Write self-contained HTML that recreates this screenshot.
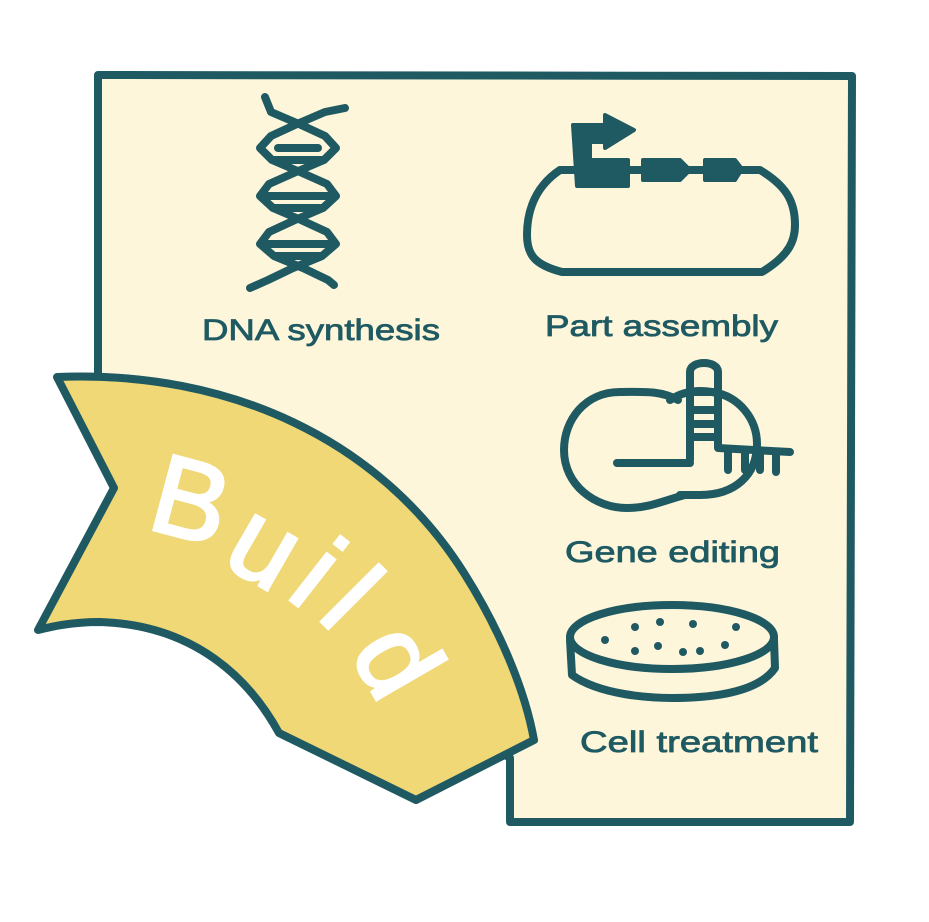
<!DOCTYPE html>
<html><head><meta charset="utf-8"><style>
html,body{margin:0;padding:0;background:#fff;}
svg{display:block;}
text{font-family:"Liberation Sans",sans-serif;}
</style></head><body>
<svg width="929" height="922" viewBox="0 0 929 922" xmlns="http://www.w3.org/2000/svg">
<g stroke="#1f5a63" stroke-linecap="round" stroke-linejoin="round">
<path d="M98,75 L852,76 L850,822 L510,822 L510,758 L420,700 L98,400 Z" fill="#fdf6da" stroke-width="8"/>
<path d="M57,377 C230,370 380,440 464,573 C500,630 525,690 534,740 L416,800 L279,733 C250,680 196,625 100,622 C70,622 50,627 38,630 L114,488 Z" fill="#efd875" stroke-width="8"/>
<!-- DNA -->
<g fill="none" stroke-width="8">
<polyline points="265,97 271,112 299,124 325,136 336,148 324,160 296,172 269,184 260,196 273,208 301,220 327,232 336,244 322,256 293,268 268,280 250,288"/>
<polyline points="345,108 325,112 297,124 271,136 260,148 272,160 300,172 327,184 336,196 323,208 295,220 269,232 260,244 274,256 303,268 328,280 334,285"/>
<line x1="278" y1="148" x2="318" y2="148"/><line x1="274" y1="160" x2="322" y2="160"/>
<line x1="266" y1="196" x2="330" y2="196"/><line x1="275" y1="208" x2="320" y2="208"/>
<line x1="266" y1="244" x2="330" y2="244"/><line x1="276" y1="256" x2="320" y2="256"/>
</g>
<!-- plasmid -->
<path d="M560,170 C530,190 527,220 527,235 C527,255 535,265 562,272 L762,272 C790,255 795,240 795,225 C795,200 785,185 760,170 Z" fill="none" stroke-width="8"/>
<g fill="#1f5a63" stroke-width="4">
<path d="M573,125 L605,125 L605,115 L634,130 L605,148 L605,142 L590,142 L590,160 L628,160 L628,186 L577,186 Z"/>
<path d="M643,160 L680,160 L690,170 L680,180 L643,180 Z"/>
<path d="M705,160 L735,160 L742,169 L735,180 L705,180 Z"/>
</g>
<!-- gene editing -->
<g fill="none" stroke-width="8">
<path d="M678,400 C660,390 640,392 620,392 C585,392 564,420 564,450 C564,485 595,508 627,508 C650,508 665,500 685,495"/>
<path d="M670,400 C685,390 700,390 712,392 C740,396 757,420 757,444 C757,475 735,495 700,495 C690,495 685,495 680,495"/>
<path d="M690,460 L690,372 C690,360 718,360 718,372 L718,448 L790,452"/>
<line x1="617" y1="463" x2="690" y2="463"/>
<line x1="690" y1="392" x2="718" y2="392"/><line x1="690" y1="410" x2="718" y2="410"/>
<line x1="690" y1="424" x2="718" y2="424"/><line x1="690" y1="437" x2="718" y2="437"/>
<line x1="728" y1="450" x2="728" y2="470"/><line x1="745" y1="451" x2="745" y2="470"/>
<line x1="760" y1="451" x2="760" y2="470"/><line x1="776" y1="452" x2="776" y2="472"/>
</g>
<!-- dish -->
<g fill="none" stroke-width="8">
<ellipse cx="672" cy="637" rx="102" ry="32"/>
<path d="M570,640 L572,675 C600,695 650,698 672,698 C720,698 760,690 775,668 L774,640"/>
</g>
<g fill="#1f5a63" stroke="none">
<circle cx="635" cy="627" r="4"/><circle cx="660" cy="622" r="4"/><circle cx="693" cy="624" r="4"/><circle cx="736" cy="627" r="4"/>
<circle cx="605" cy="640" r="4"/><circle cx="635" cy="651" r="4"/><circle cx="658" cy="646" r="4"/><circle cx="683" cy="652" r="4"/><circle cx="700" cy="651" r="4"/><circle cx="725" cy="645" r="4"/>
</g>
</g>
<g fill="#1f5a63" stroke="#1f5a63" stroke-width="0.8" font-size="30">
<text x="202" y="340" textLength="238" lengthAdjust="spacingAndGlyphs">DNA synthesis</text>
<text x="545" y="336" textLength="233" lengthAdjust="spacingAndGlyphs">Part assembly</text>
<text x="565" y="562" textLength="215" lengthAdjust="spacingAndGlyphs">Gene editing</text>
<text x="580" y="752" textLength="238" lengthAdjust="spacingAndGlyphs">Cell treatment</text>
</g>
<g fill="#fff" stroke="#fff" stroke-width="3" font-size="112">
<text transform="translate(191,500) rotate(15)" text-anchor="middle" dominant-baseline="central">B</text>
<text transform="translate(266,545) rotate(30)" text-anchor="middle" dominant-baseline="central">u</text>
<text transform="translate(318,573) rotate(38)" text-anchor="middle" dominant-baseline="central">i</text>
<text transform="translate(352,598) rotate(45)" text-anchor="middle" dominant-baseline="central">l</text>
<text transform="translate(398,660) rotate(60)" text-anchor="middle" dominant-baseline="central">d</text>
</g>
</svg>
</body></html>
